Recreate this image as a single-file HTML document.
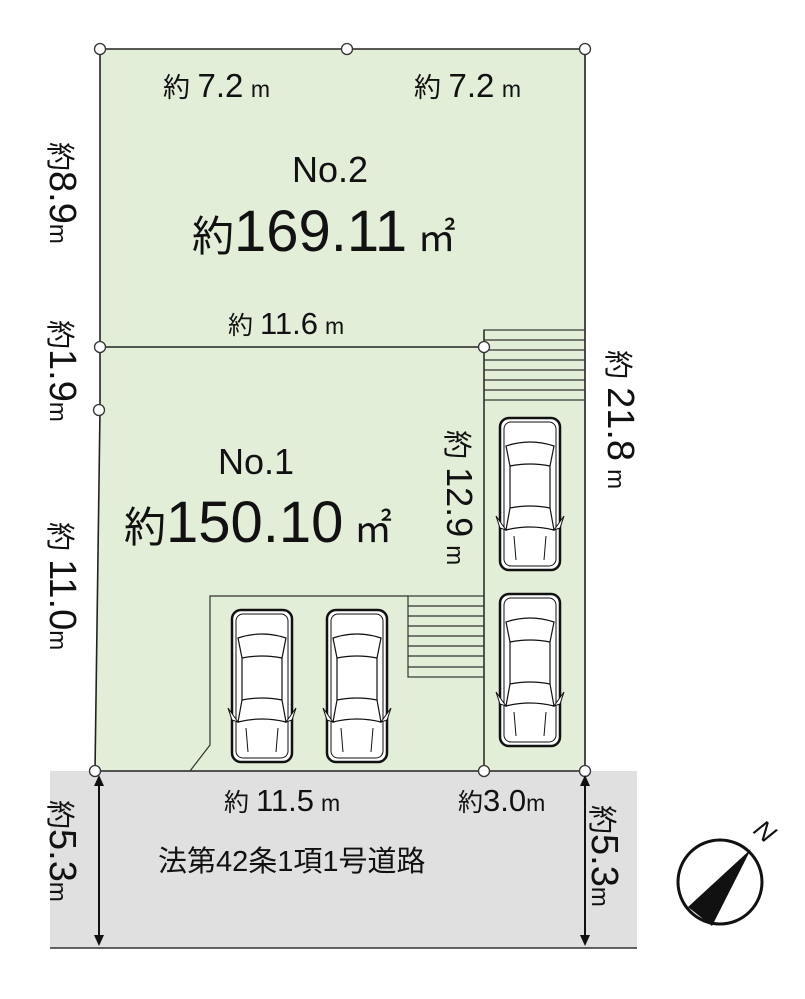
<!DOCTYPE html>
<html><head><meta charset="utf-8"><style>
html,body{margin:0;padding:0;background:#fff;}
svg{display:block;}
text{font-family:"Liberation Sans","Noto Sans CJK JP",sans-serif;fill:#111;}
</style></head><body>
<svg width="805" height="999" viewBox="0 0 805 999" xmlns="http://www.w3.org/2000/svg">
<defs>
<g id="car">
<rect x="0" y="0" width="60" height="152" rx="9" fill="#fff" stroke="#111" stroke-width="2.5"/>
<rect x="4" y="4" width="52" height="144" rx="7" fill="none" stroke="#111" stroke-width="1"/>
<path d="M6 28 Q30 20 54 28 L50 48 Q30 44 10 48 Z" fill="none" stroke="#111" stroke-width="1.2"/>
<path d="M10 48 L10 90 M50 48 L50 90" stroke="#111" stroke-width="1.2"/>
<path d="M10 90 Q30 86 50 90 L54 112 Q30 106 6 112 Z" fill="none" stroke="#111" stroke-width="1.2"/>
<path d="M6 112 L-4 98 L0 110 Z M54 112 L64 98 L60 110 Z" fill="#fff" stroke="#111" stroke-width="1"/>
<path d="M14 118 L16 142 M46 118 L44 142" stroke="#111" stroke-width="1"/>
</g>
</defs>
<rect x="50" y="771" width="587" height="177" fill="#e0e0e0"/>
<line x1="50" y1="948" x2="637" y2="948" stroke="#333" stroke-width="1.5"/>
<polygon points="100,49 585,49 585,771 95,771 100,410" fill="#e2eed8" stroke="#222" stroke-width="1.6"/>
<line x1="100" y1="347" x2="484" y2="347" stroke="#222" stroke-width="1.5"/>
<line x1="484" y1="330" x2="484" y2="771" stroke="#222" stroke-width="1.5"/>
<g stroke="#333" stroke-width="1.2" fill="none">
<rect x="484" y="330" width="101" height="70"/>
<line x1="484" y1="340" x2="585" y2="340"/><line x1="484" y1="350" x2="585" y2="350"/>
<line x1="484" y1="360" x2="585" y2="360"/><line x1="484" y1="370" x2="585" y2="370"/>
<line x1="484" y1="380" x2="585" y2="380"/><line x1="484" y1="390" x2="585" y2="390"/>
<rect x="408" y="596" width="76" height="81"/>
<line x1="408" y1="606" x2="484" y2="606"/><line x1="408" y1="616" x2="484" y2="616"/>
<line x1="408" y1="626" x2="484" y2="626"/><line x1="408" y1="636" x2="484" y2="636"/>
<line x1="408" y1="646" x2="484" y2="646"/><line x1="408" y1="656" x2="484" y2="656"/>
<line x1="408" y1="667" x2="484" y2="667"/>
<polyline points="190,771 210,745 210,596 408,596"/>
</g>
<use href="#car" x="500" y="418"/>
<use href="#car" x="500" y="594"/>
<use href="#car" x="232" y="610"/>
<use href="#car" x="327" y="610"/>
<g fill="#fff" stroke="#333" stroke-width="1.3">
<circle cx="100" cy="49" r="5.5"/><circle cx="347" cy="49" r="5.5"/><circle cx="585" cy="49" r="5.5"/>
<circle cx="100" cy="347" r="5.5"/><circle cx="484" cy="347" r="5.5"/><circle cx="99" cy="410" r="5.5"/>
<circle cx="95" cy="771" r="5.5"/><circle cx="484" cy="771" r="5.5"/><circle cx="585" cy="771" r="5.5"/>
</g>
<g stroke="#111" stroke-width="2">
<line x1="99" y1="782" x2="99" y2="937"/><line x1="585" y1="782" x2="585" y2="937"/>
</g>
<g fill="#111">
<polygon points="99,775 94,786 104,786"/><polygon points="99,946 94,935 104,935"/>
<polygon points="585,775 580,786 590,786"/><polygon points="585,946 580,935 590,935"/>
</g>
<text x="163" y="97" font-size="27">約 <tspan font-size="33">7.2</tspan> <tspan font-size="23">m</tspan></text>
<text x="414" y="97" font-size="27">約 <tspan font-size="33">7.2</tspan> <tspan font-size="23">m</tspan></text>
<text x="292" y="182" font-size="36">No.2</text>
<text x="192" y="251" font-size="42">約<tspan font-size="58">169.11</tspan><tspan font-size="38"> ㎡</tspan></text>
<text x="228" y="334" font-size="25">約 <tspan font-size="31">11.6</tspan> <tspan font-size="23">m</tspan></text>
<text x="218" y="474" font-size="36">No.1</text>
<text x="124" y="542" font-size="42">約<tspan font-size="58">150.10</tspan><tspan font-size="38"> ㎡</tspan></text>
<text x="224" y="811" font-size="25">約 <tspan font-size="31">11.5</tspan> <tspan font-size="23">m</tspan></text>
<text x="458" y="811" font-size="25">約<tspan font-size="31">3.0</tspan><tspan font-size="23">m</tspan></text>
<text x="158" y="871" font-size="29">法第42条1項1号道路</text>
<g font-size="29">
<text transform="translate(50,142) rotate(90)">約<tspan font-size="38">8.9</tspan><tspan font-size="24">m</tspan></text>
<text transform="translate(50,320) rotate(90)">約<tspan font-size="38">1.9</tspan><tspan font-size="24">m</tspan></text>
<text transform="translate(50,522) rotate(90)">約 <tspan font-size="38">11.0</tspan><tspan font-size="24">m</tspan></text>
<text transform="translate(447,430) rotate(90)">約 <tspan font-size="36">12.9</tspan> <tspan font-size="24">m</tspan></text>
<text transform="translate(608,350) rotate(90)">約 <tspan font-size="38">21.8</tspan> <tspan font-size="24">m</tspan></text>
<text transform="translate(50,800) rotate(90)">約<tspan font-size="38">5.3</tspan><tspan font-size="24">m</tspan></text>
<text transform="translate(592,805) rotate(90)">約<tspan font-size="38">5.3</tspan><tspan font-size="24">m</tspan></text>
</g>
<circle cx="720" cy="882" r="42" fill="none" stroke="#111" stroke-width="3"/>
<polygon points="751,849 688,907 712,926" fill="#111"/>
<text transform="translate(752,832) rotate(40)" font-size="26" font-style="italic">N</text>
</svg>
</body></html>
